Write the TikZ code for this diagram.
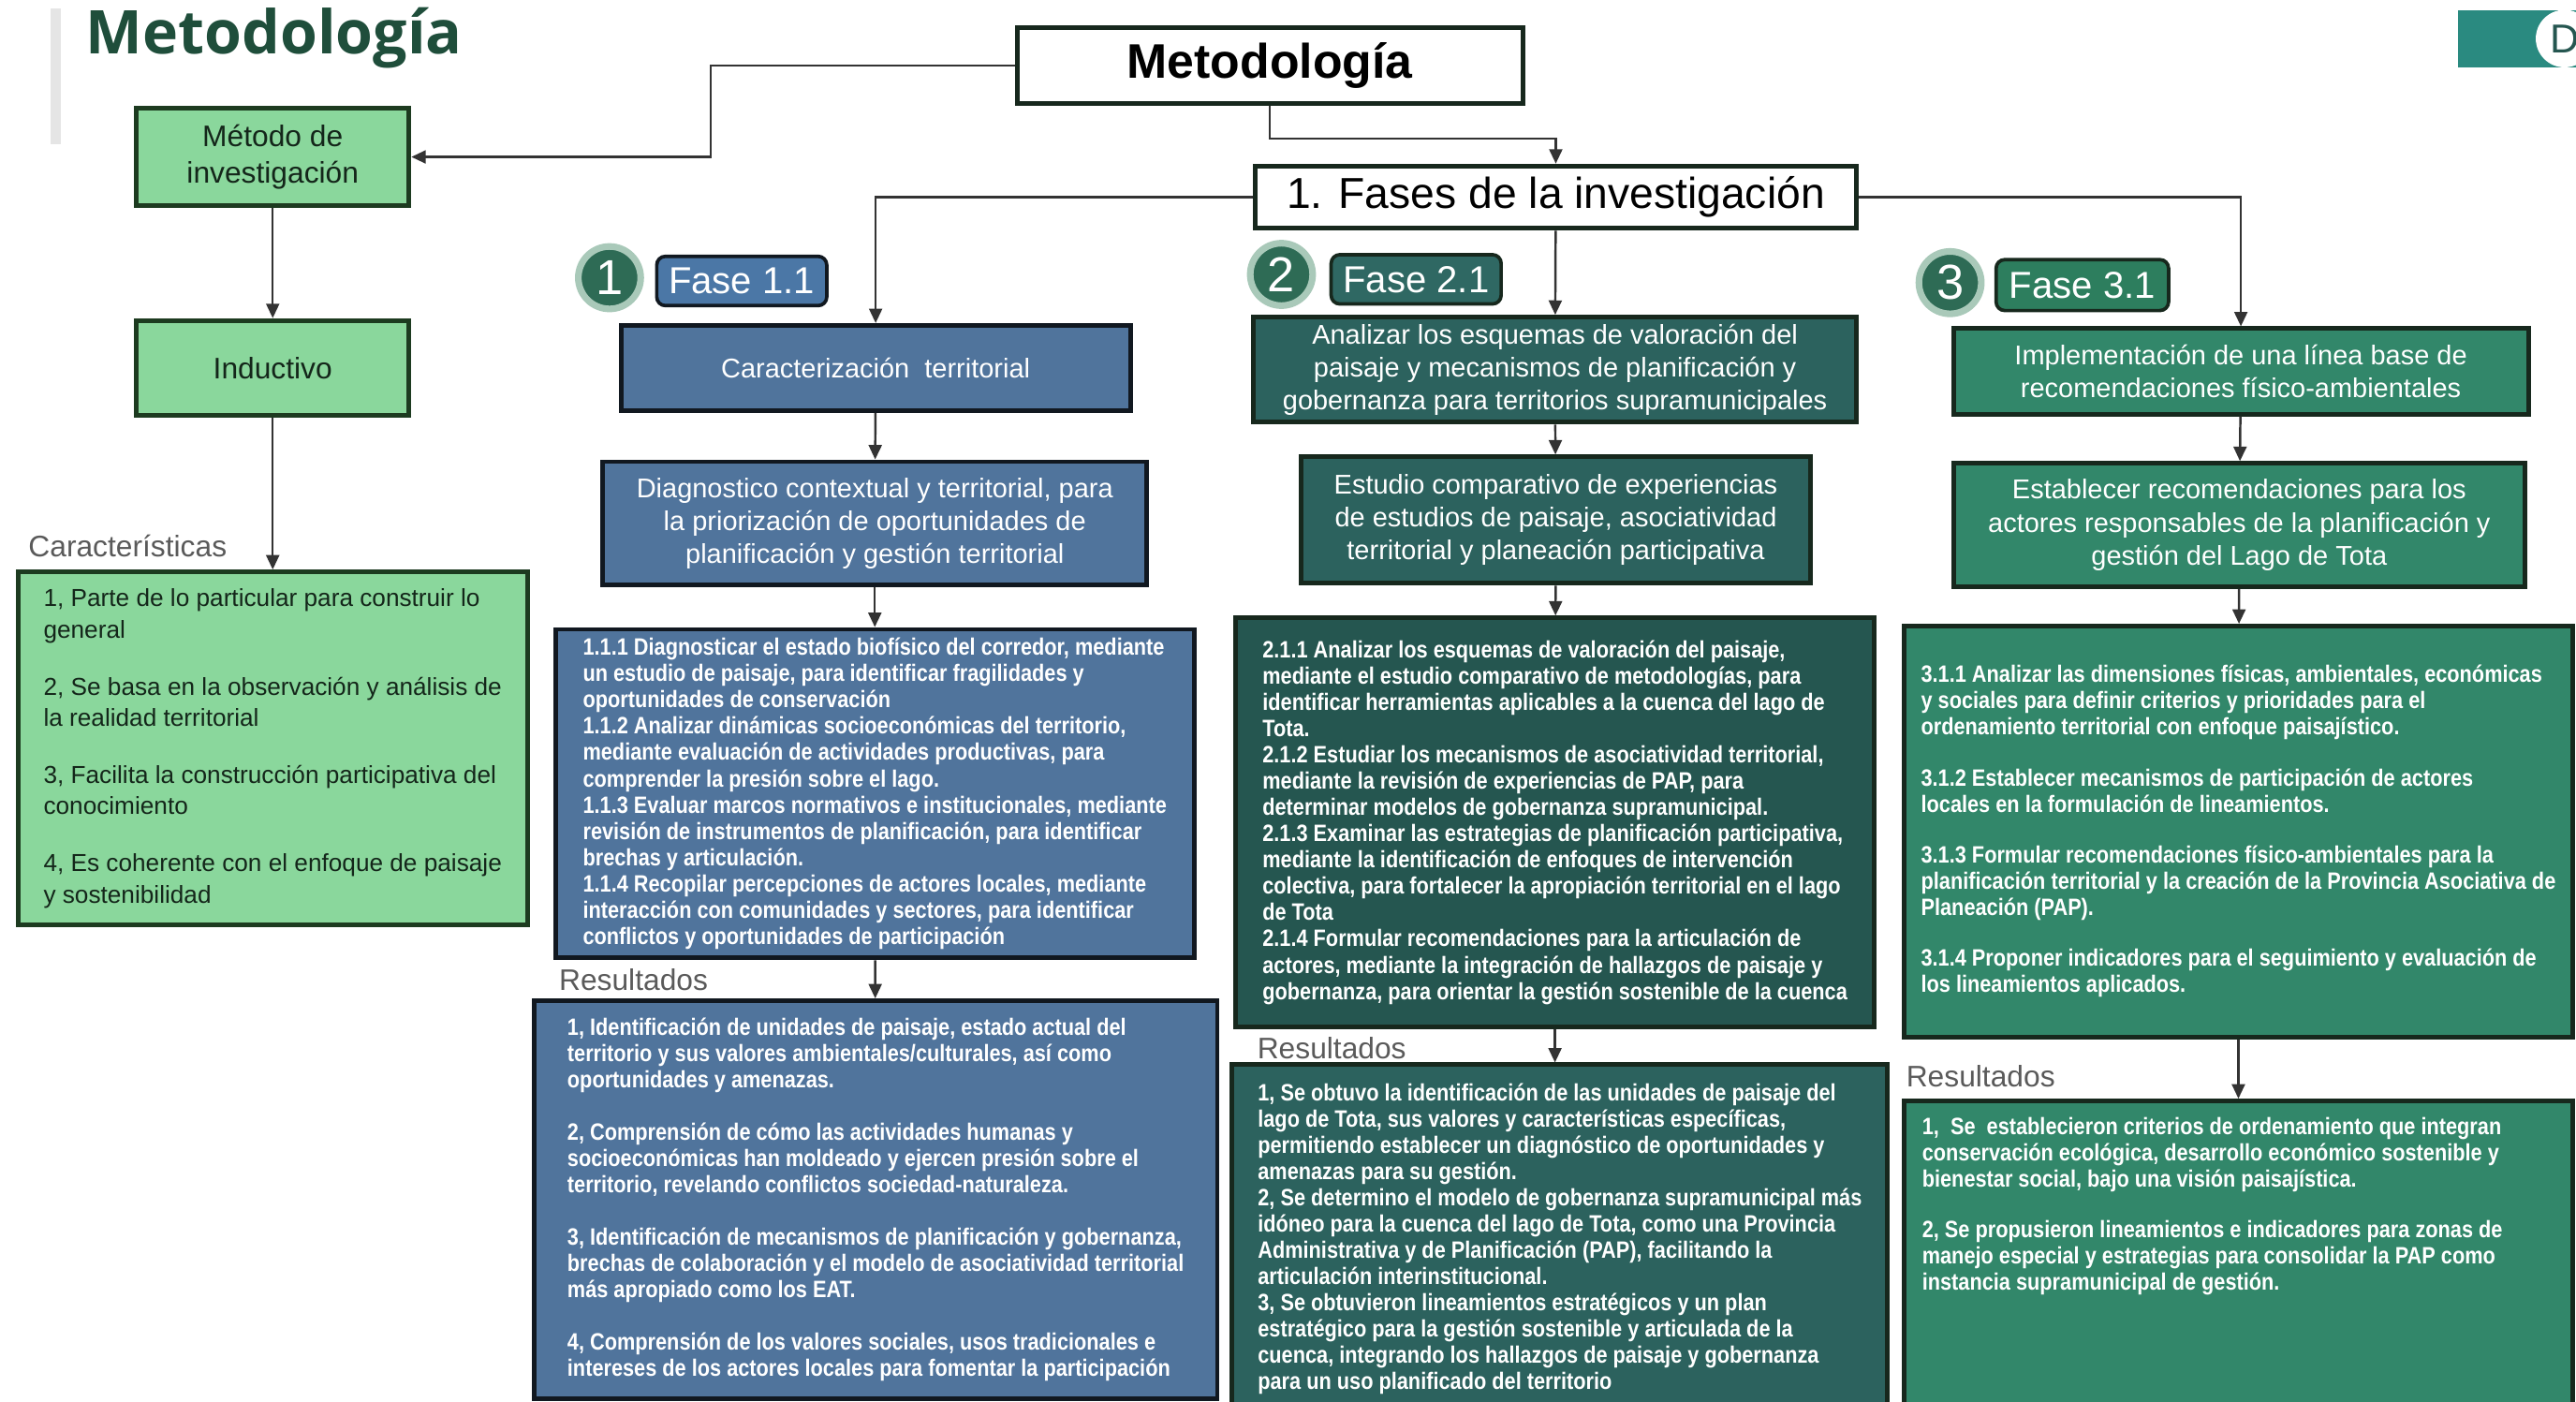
\documentclass[tikz,border=0pt]{standalone}
\usepackage{fontspec}
\setmainfont{Liberation Sans}
\newfontfamily\titulofont{Open Sans}
\newfontfamily\estrecha[FakeStretch=0.86]{Liberation Sans}
\usetikzlibrary{arrows.meta}
\definecolor{verdeclaro}{HTML}{8AD79C}
\definecolor{verdeborde}{HTML}{1D3B20}
\definecolor{textoverde}{HTML}{14261A}
\definecolor{azulcaja}{HTML}{50749C}
\definecolor{azulfase}{HTML}{4B77A6}
\definecolor{azulborde}{HTML}{111820}
\definecolor{tealcaja}{HTML}{2C625E}
\definecolor{tealoscuro}{HTML}{255650}
\definecolor{tealfase}{HTML}{2F6863}
\definecolor{verdecaja}{HTML}{32876A}
\definecolor{verdefase}{HTML}{2D7E5E}
\definecolor{bordeoscuro}{HTML}{17281D}
\definecolor{titulo}{HTML}{1F4E3B}
\definecolor{gristexto}{HTML}{5A5A5A}
\definecolor{linea}{HTML}{333333}
\definecolor{anillo}{HTML}{A9C9B9}
\definecolor{circulo}{HTML}{2E6B55}
\definecolor{logofondo}{HTML}{2A8A80}
\tikzset{
  caja/.style = {rectangle, draw, line width=1.6pt, align=center, inner sep=2pt},
  caja_b/.style = {caja, fill=white, draw=bordeoscuro, text=black},% caja blanca
  caja_v/.style = {caja, fill=verdeclaro, draw=verdeborde, text=textoverde,
    font=\fontsize{10.3}{12.5}\selectfont},% caja verde claro
  caja_a/.style = {caja, fill=azulcaja, draw=azulborde, text=white},% caja azul
  caja_t/.style = {caja, fill=tealcaja, draw=bordeoscuro, text=white},% caja teal
  caja_g/.style = {caja, fill=verdecaja, draw=bordeoscuro, text=white},% caja verde
  medio/.style = {font=\fontsize{9.4}{11.4}\selectfont},% texto mediano
  chico/.style = {align=left, font=\estrecha\bfseries\fontsize{8.2}{9.1}\selectfont},% texto chico
  etiqueta/.style = {anchor=west, inner sep=0pt, text=gristexto,
    font=\fontsize{10.3}{12}\selectfont},
  fase/.style = {rectangle, rounded corners=3pt, draw=azulborde, line width=1.2pt,
    text=white, font=\fontsize{13}{13}\selectfont, minimum height=0.6cm,
    minimum width=2.07cm},
  numero/.style = {circle, fill=circulo, draw=anillo, line width=2.3pt,
    minimum size=0.76cm, inner sep=0pt, text=white, font=\fontsize{17}{17}\selectfont},
  flecha/.style = {-{Triangle[length=5pt,width=4.5pt]}, draw=linea, line width=0.8pt}
}
\begin{document}
\begin{tikzpicture}[x=0.02cm,y=-0.02cm]
\useasboundingbox (0,0) rectangle (1568,853);
\clip (0,0) rectangle (1568,853);
% titulo
\fill[black!10] (31,5) rectangle (37,88);
\node[anchor=base west, inner sep=0pt, text=titulo,
  font=\titulofont\bfseries\fontsize{20.9}{22}\selectfont] (titulo) at (52,33) {Metodología};
\fill[logofondo] (1496,6) rectangle (1570,41);
\node[circle, fill=white, minimum size=0.7cm, inner sep=0pt, text=tealoscuro,
  font=\fontsize{14}{14}\selectfont] (logo) at (1561,23.5) {D};

% cajas superiores
\node[caja_b, minimum width=6.16cm, minimum height=0.92cm,
  font=\bfseries\fontsize{16.8}{18}\selectfont] (meto) at (773,40) {Metodología};
\node[caja_b, minimum width=7.32cm, minimum height=0.76cm,
  font=\fontsize{15}{16}\selectfont] (fases) at (947,120) {1. Fases de la investigación};

% metodo de investigacion
\node[caja_v, minimum width=3.32cm, minimum height=1.18cm] (metodo) at (166,95.5) {Método de\\investigación};
\node[caja_v, minimum width=3.32cm, minimum height=1.16cm] (inductivo) at (166,224) {Inductivo};
\node[etiqueta] (lcaract) at (17,332) {Características};
\node[caja_v, minimum width=6.2cm, minimum height=4.3cm, align=left,
  font=\fontsize{8.5}{10.8}\selectfont] (caract) at (166,455.5) {%
  1, Parte de lo particular para construir lo\\general\\[9pt]
  2, Se basa en la observación y análisis de\\la realidad territorial\\[9pt]
  3, Facilita la construcción participativa del\\conocimiento\\[9pt]
  4, Es coherente con el enfoque de paisaje\\y sostenibilidad};

% fase 1.1
\node[numero] (n1) at (371,169) {1};
\node[fase, fill=azulfase] (f1) at (451.5,171) {Fase 1.1};
\node[caja_a, medio, minimum width=6.2cm, minimum height=1.04cm] (carac) at (533,224) {Caracterización\ \ territorial};
\node[caja_a, medio, minimum width=6.62cm, minimum height=1.5cm] (diag) at (532.5,318.5)
  {Diagnostico contextual y territorial, para\\la priorización de oportunidades de\\planificación y gestión territorial};
\node[caja_a, chico, minimum width=7.78cm, minimum height=4cm] (obj1) at (532.5,483) {%
  1.1.1 Diagnosticar el estado biofísico del corredor, mediante\\
  un estudio de paisaje, para identificar fragilidades y\\
  oportunidades de conservación\\
  1.1.2 Analizar dinámicas socioeconómicas del territorio,\\
  mediante evaluación de actividades productivas, para\\
  comprender la presión sobre el lago.\\
  1.1.3 Evaluar marcos normativos e institucionales, mediante\\
  revisión de instrumentos de planificación, para identificar\\
  brechas y articulación.\\
  1.1.4 Recopilar percepciones de actores locales, mediante\\
  interacción con comunidades y sectores, para identificar\\
  conflictos y oportunidades de participación};
\node[etiqueta] (lres1) at (340,596) {Resultados};
\node[caja_a, chico, minimum width=8.32cm, minimum height=4.84cm] (res1) at (533,730) {%
  1, Identificación de unidades de paisaje, estado actual del\\
  territorio y sus valores ambientales/culturales, así como\\
  oportunidades y amenazas.\\[9pt]
  2, Comprensión de cómo las actividades humanas y\\
  socioeconómicas han moldeado y ejercen presión sobre el\\
  territorio, revelando conflictos sociedad-naturaleza.\\[9pt]
  3, Identificación de mecanismos de planificación y gobernanza,\\
  brechas de colaboración y el modelo de asociatividad territorial\\
  más apropiado como los EAT.\\[9pt]
  4, Comprensión de los valores sociales, usos tradicionales e\\
  intereses de los actores locales para fomentar la participación};

% fase 2.1
\node[numero] (n2) at (780,167) {2};
\node[fase, fill=tealfase, draw=bordeoscuro] (f2) at (862,170) {Fase 2.1};
\node[caja_t, medio, minimum width=7.34cm, minimum height=1.28cm] (analizar) at (946.5,225)
  {Analizar los esquemas de valoración del\\paisaje y mecanismos de planificación y\\gobernanza para territorios supramunicipales};
\node[caja_t, medio, minimum width=6.2cm, minimum height=1.54cm] (estudio) at (947,316.5)
  {Estudio comparativo de experiencias\\de estudios de paisaje, asociatividad\\territorial y planeación participativa};
\node[caja_t, chico, fill=tealoscuro, minimum width=7.78cm, minimum height=4.98cm] (obj2) at (946.5,500.5) {%
  2.1.1 Analizar los esquemas de valoración del paisaje,\\
  mediante el estudio comparativo de metodologías, para\\
  identificar herramientas aplicables a la cuenca del lago de\\
  Tota.\\
  2.1.2 Estudiar los mecanismos de asociatividad territorial,\\
  mediante la revisión de experiencias de PAP, para\\
  determinar modelos de gobernanza supramunicipal.\\
  2.1.3 Examinar las estrategias de planificación participativa,\\
  mediante la identificación de enfoques de intervención\\
  colectiva, para fortalecer la apropiación territorial en el lago\\
  de Tota\\
  2.1.4 Formular recomendaciones para la articulación de\\
  actores, mediante la integración de hallazgos de paisaje y\\
  gobernanza, para orientar la gestión sostenible de la cuenca};
\node[etiqueta] (lres2) at (765,638) {Resultados};
\node[caja_t, chico, minimum width=7.98cm, minimum height=4.24cm] (res2) at (949.5,754) {%
  1, Se obtuvo la identificación de las unidades de paisaje del\\
  lago de Tota, sus valores y características específicas,\\
  permitiendo establecer un diagnóstico de oportunidades y\\
  amenazas para su gestión.\\
  2, Se determino el modelo de gobernanza supramunicipal más\\
  idóneo para la cuenca del lago de Tota, como una Provincia\\
  Administrativa y de Planificación (PAP), facilitando la\\
  articulación interinstitucional.\\
  3, Se obtuvieron lineamientos estratégicos y un plan\\
  estratégico para la gestión sostenible y articulada de la\\
  cuenca, integrando los hallazgos de paisaje y gobernanza\\
  para un uso planificado del territorio};

% fase 3.1
\node[numero] (n3) at (1187,172) {3};
\node[fase, fill=verdefase, draw=bordeoscuro, minimum height=0.62cm, minimum width=2.1cm] (f3) at (1267.5,173.5) {Fase 3.1};
\node[caja_g, medio, minimum width=7cm, minimum height=1.04cm] (impl) at (1364,226)
  {Implementación de una línea base de\\recomendaciones físico-ambientales};
\node[caja_g, medio, minimum width=6.96cm, minimum height=1.5cm] (estab) at (1363,319.5)
  {Establecer recomendaciones para los\\actores responsables de la planificación y\\gestión del Lago de Tota};
\node[caja_g, chico, minimum width=8.14cm, minimum height=5cm] (obj3) at (1362.5,506) {%
  3.1.1 Analizar las dimensiones físicas, ambientales, económicas\\
  y sociales para definir criterios y prioridades para el\\
  ordenamiento territorial con enfoque paisajístico.\\[8.5pt]
  3.1.2 Establecer mecanismos de participación de actores\\
  locales en la formulación de lineamientos.\\[8.5pt]
  3.1.3 Formular recomendaciones físico-ambientales para la\\
  planificación territorial y la creación de la Provincia Asociativa de\\
  Planeación (PAP).\\[8.5pt]
  3.1.4 Proponer indicadores para el seguimiento y evaluación de\\
  los lineamientos aplicados.};
\node[etiqueta] (lres3) at (1160,655) {Resultados};
\node[caja_g, chico, minimum width=8.14cm, minimum height=4cm] (res3) at (1362.5,770) {%
  \parbox[c][3.6cm][t]{7.7cm}{\raggedright
  1,\ \ Se\ \ establecieron criterios de ordenamiento que integran\\
  conservación ecológica, desarrollo económico sostenible y\\
  bienestar social, bajo una visión paisajística.\\[8.5pt]
  2, Se propusieron lineamientos e indicadores para zonas de\\
  manejo especial y estrategias para consolidar la PAP como\\
  instancia supramunicipal de gestión.}};

% conectores
\draw[flecha] (meto.west) -- ++(-185,0) |- (metodo.east);
\draw[flecha] (meto.south) -- ++(0,20) -| (fases.north);
\draw[flecha] (metodo) -- (inductivo);
\draw[flecha] (inductivo) -- (caract);
\draw[flecha] (fases.west) -| (carac.north);
\draw[flecha] (fases) -- (analizar);
\draw[flecha] (fases.east) -| (impl.north);
\draw[flecha] (carac) -- (diag);
\draw[flecha] (diag) -- (obj1);
\draw[flecha] (obj1) -- (res1);
\draw[flecha] (analizar) -- (estudio);
\draw[flecha] (estudio) -- (obj2);
\draw[flecha] (obj2.south) -- (obj2.south |- res2.north);
\draw[flecha] (impl) -- (estab);
\draw[flecha] (estab) -- (obj3);
\draw[flecha] (obj3) -- (res3);
\end{tikzpicture}
\end{document}
